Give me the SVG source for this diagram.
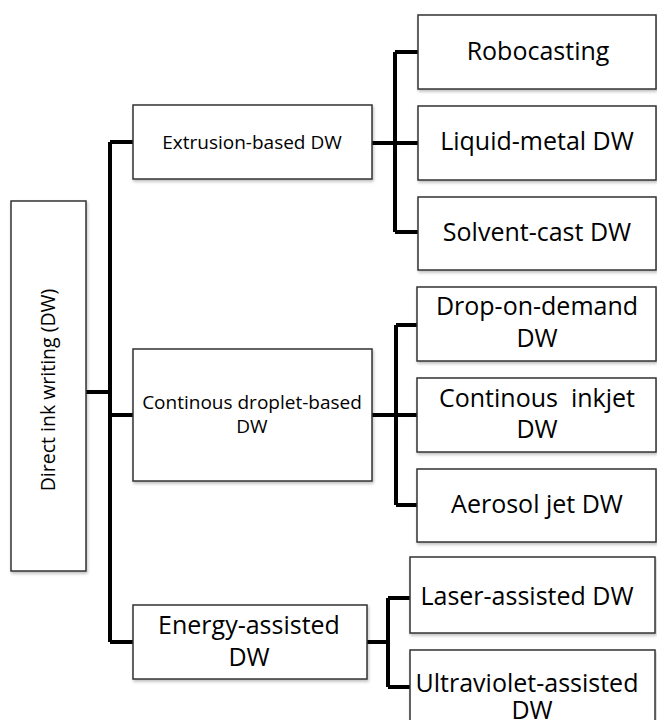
<svg xmlns="http://www.w3.org/2000/svg" width="657" height="720" viewBox="0 0 657 720">
<defs>
<filter id="sh" x="-10%" y="-10%" width="130%" height="140%">
<feDropShadow dx="1" dy="2" stdDeviation="1.5" flood-color="#000" flood-opacity="0.25"/>
</filter>
</defs>
<style>
.box{fill:#fff;stroke:#333;stroke-width:1.5;filter:url(#sh)}
.t{font-family:"Open Sans","Liberation Sans",sans-serif;fill:#000;text-anchor:middle}
.l{font-size:25px}
.s{font-size:19px}
.c{fill:none;stroke:#000;stroke-width:4;stroke-linecap:butt;stroke-linejoin:miter}
</style>
<rect width="657" height="720" fill="#fff"/>
<g id="connectors">
<path class="c" d="M86,392 H110"/>
<path class="c" d="M110,142 V642"/>
<path class="c" d="M110,142 H133 M110,415 H133 M110,642 H133"/>
<path class="c" d="M372,143 H418 M395,52 V232 M395,52 H418 M395,232 H418"/>
<path class="c" d="M372,415 H417 M396,325 V505 M396,325 H417 M396,505 H417"/>
<path class="c" d="M367,642 H388 M388,598 V687 M388,598 H410 M388,687 H410"/>
</g>
<g id="root">
<rect class="box" x="11" y="201" width="75" height="370"/>
<text class="t" font-size="19.5" transform="translate(55,390) rotate(-90)">Direct ink writing (DW)</text>
</g>
<g id="extrusion">
<rect class="box" x="133" y="105" width="239" height="74"/>
<text class="t s" x="252" y="149">Extrusion-based DW</text>
</g>
<g id="droplet">
<rect class="box" x="133" y="349" width="239" height="132"/>
<text class="t s" x="252" y="409">Continous droplet-based</text>
<text class="t s" x="252" y="433">DW</text>
</g>
<g id="energy">
<rect class="box" x="133" y="605" width="234" height="74"/>
<text class="t l" x="249" y="634">Energy-assisted</text>
<text class="t l" x="249" y="666">DW</text>
</g>
<g id="robocasting">
<rect class="box" x="418" y="15" width="238" height="74"/>
<text class="t l" x="538" y="60">Robocasting</text>
</g>
<g id="liquidmetal">
<rect class="box" x="418" y="106" width="238" height="74"/>
<text class="t l" x="537" y="150">Liquid-metal DW</text>
</g>
<g id="solventcast">
<rect class="box" x="418" y="197" width="238" height="73"/>
<text class="t l" x="537" y="241">Solvent-cast DW</text>
</g>
<g id="dropondemand">
<rect class="box" x="417" y="287" width="239" height="74"/>
<text class="t l" x="537" y="315">Drop-on-demand</text>
<text class="t l" x="537" y="347">DW</text>
</g>
<g id="inkjet">
<rect class="box" x="417" y="378" width="239" height="74"/>
<text class="t l" x="537" y="407" xml:space="preserve">Continous  inkjet</text>
<text class="t l" x="537" y="438">DW</text>
</g>
<g id="aerosol">
<rect class="box" x="417" y="469" width="239" height="73"/>
<text class="t l" x="537" y="513">Aerosol jet DW</text>
</g>
<g id="laser">
<rect class="box" x="410" y="557" width="245" height="76"/>
<text class="t l" x="527" y="605">Laser-assisted DW</text>
</g>
<g id="ultraviolet">
<rect class="box" x="410" y="650" width="245" height="80"/>
<text class="t l" x="527" y="692">Ultraviolet-assisted</text>
<text class="t l" x="532" y="719">DW</text>
</g>
</svg>
